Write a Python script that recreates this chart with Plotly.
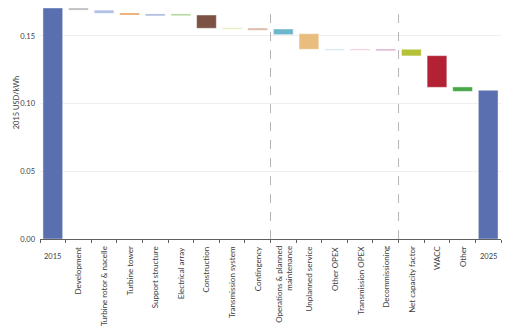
import numpy as np
import plotly.graph_objects as go

categories = ["2015", "Development", "Turbine rotor & nacelle", "Turbine tower",
              "Support structure", "Electrical array", "Construction",
              "Transmission system", "Contingency",
              "Operations & planned<br>maintenance", "Unplanned service",
              "Other OPEX", "Transmission OPEX", "Decommissioning",
              "Net capacity factor", "WACC", "Other", "2025"]
bar_top = [0.1706, 0.1706, 0.1690, 0.1669, 0.1662, 0.1662, 0.1654, 0.1561, 0.1558,
           0.1551, 0.1516, 0.1403, 0.1403, 0.1403, 0.1401, 0.1354, 0.1123, 0.1098]
bar_bottom = [0.0, 0.1690, 0.1667, 0.1654, 0.1648, 0.1649, 0.1556, 0.1549, 0.1541,
              0.1509, 0.1401, 0.1394, 0.1394, 0.1390, 0.1352, 0.1120, 0.1090, 0.0]
colors = ["#5a6fb0", "#b9b9b9", "#b0bfe6", "#e8a15a", "#a0b0da", "#a9d18e", "#7b5244",
          "#e2efb5", "#d9b8a8", "#6cb6cc", "#e8bd7d", "#c7e0ee", "#f2bfd0", "#d9a9cc",
          "#b3c236", "#b22234", "#48a848", "#5a6fb0"]
y_ticks = [0.00, 0.05, 0.10, 0.15]
separators_after = ["Contingency", "Decommissioning"]

top = np.array(bar_top)
bottom = np.array(bar_bottom)
xs = list(range(len(categories)))

FONT = "Liberation Sans Narrow, Lato, sans-serif"

fig = go.Figure()
fig.add_trace(go.Bar(
    x=xs, y=top - bottom, base=bottom,
    marker=dict(color=colors, line=dict(color="rgba(255,255,255,0.55)", width=0.8)),
    width=0.77, hoverinfo="skip",
))

for name in separators_after:
    i = categories.index(name)
    fig.add_shape(type="line", xref="x", yref="paper", x0=i + 0.5, x1=i + 0.5,
                  y0=0, y1=1, line=dict(color="#b5b5b5", width=1, dash="dash"))

for i, c in enumerate(categories):
    if c in ("2015", "2025"):
        fig.add_annotation(x=i, y=0, xref="x", yref="paper", text=c, showarrow=False,
                           yanchor="top", xanchor="center", yshift=-11,
                           font=dict(family=FONT, size=7.5, color="#404040"))
    else:
        fig.add_annotation(x=i, y=0, xref="x", yref="paper", text=c, showarrow=False,
                           textangle=-90, yanchor="top", xanchor="center", align="right",
                           yshift=-5,
                           font=dict(family=FONT, size=8, color="#404040"))

fig.add_annotation(x=-0.052, y=0.58, xref="paper", yref="paper", text="2015 USD/kWh",
                   showarrow=False, textangle=-90, xanchor="center", yanchor="middle",
                   font=dict(family=FONT, size=7.5, color="#404040"))

fig.update_layout(
    width=507, height=326,
    margin=dict(l=40, r=6, t=5, b=87),
    paper_bgcolor="white", plot_bgcolor="white",
    showlegend=False,
    font=dict(family=FONT, size=7.5, color="#404040"),
    xaxis=dict(range=[-0.5, len(categories) - 0.5], tickmode="array",
               tickvals=[i - 0.5 for i in range(len(categories) + 1)],
               ticktext=[""] * (len(categories) + 1),
               ticks="outside", ticklen=3, tickcolor="#606060", tickwidth=1,
               showline=True, linecolor="#606060", linewidth=1, showgrid=False,
               zeroline=False),
    yaxis=dict(range=[0, 0.1728], tickvals=y_ticks, ticktext=[f"{v:.2f}" for v in y_ticks],
               showgrid=True, gridcolor="#efefef", gridwidth=1, zeroline=False,
               showline=False, ticks="", ticklabelstandoff=4,
               tickfont=dict(family=FONT, size=7.5, color="#404040")),
)

fig.write_html("out.html")
